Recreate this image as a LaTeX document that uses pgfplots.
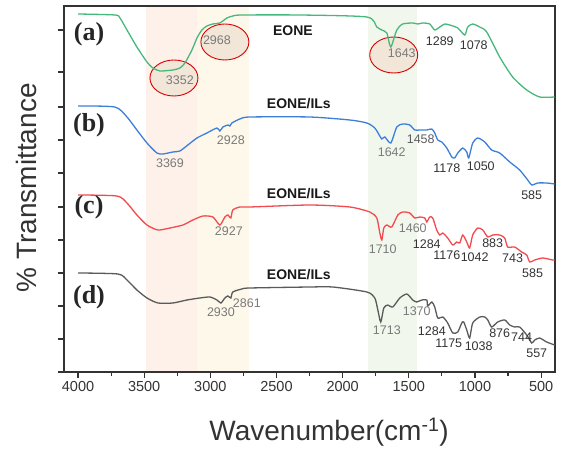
\documentclass[border=0pt]{standalone}
\usepackage{pgfplots}
\pgfplotsset{compat=1.18}
\usepackage{fontspec}
\setmainfont{Liberation Sans}
\newfontfamily\serifb{Liberation Serif}
\definecolor{cA}{HTML}{45B97C}
\definecolor{cB}{HTML}{3C7FDB}
\definecolor{cC}{HTML}{F24A4E}
\definecolor{cD}{HTML}{5A5A5A}
\definecolor{bandP}{HTML}{FDF1EA}
\definecolor{bandY}{HTML}{FEF8EA}
\definecolor{bandG}{HTML}{F1F7EC}
\definecolor{ellF}{HTML}{F1E6D8}
\definecolor{lg}{HTML}{7A7A7A}
\definecolor{ld}{HTML}{333333}
\begin{document}
\begin{tikzpicture}
\begin{axis}[
  set layers,
  scale only axis, width=491pt, height=366pt,
  xmin=395, xmax=4106, x dir=reverse,
  ymin=0, ymax=366,
  xtick={500,1000,...,4000}, minor x tick num=1,
  ytick={0,33,66,99,132,165,199,232,265,300,342},
  yticklabels={},
  xtick pos=bottom, ytick pos=left,
  tick align=outside,
  major tick length=6pt, minor tick length=4pt,
  every tick/.style={line width=1.1pt, black!80},
  axis line style={line width=1.2pt, black!80},
  scaled x ticks=false,
  /pgf/number format/1000 sep={},
  /pgf/number format/assume math mode=true,
  xticklabel style={font=\fontsize{14.5}{16}\selectfont, text=ld},
  xlabel={Wavenumber(cm\textsuperscript{-1})},
  ylabel={\% Transmittance},
  xlabel style={font=\fontsize{28}{32}\selectfont, text=ld, at={(axis description cs:0.54,-0.164)}, anchor=center},
  ylabel style={font=\fontsize{28}{32}\selectfont, text=ld, at={(axis description cs:-0.077,0.503)}, anchor=center},
  clip=false,
]
\coordinate (SW) at (rel axis cs:0,0);
\coordinate (NE) at (rel axis cs:1,1);
\begin{pgfonlayer}{axis background}
% shaded bands
\fill[bandP] (axis cs:3490,0) rectangle (axis cs:3100,366);
\fill[bandY] (axis cs:3100,0) rectangle (axis cs:2710,366);
\fill[bandG] (axis cs:1810,0) rectangle (axis cs:1440,366);
% ellipses
\draw[red!85!black, line width=0.9pt, fill=ellF] (axis cs:3275,294) ellipse [x radius=24pt, y radius=18pt];
\draw[red!85!black, line width=0.9pt, fill=ellF] (axis cs:2890,330) ellipse [x radius=24pt, y radius=18pt];
\draw[red!85!black, line width=0.9pt, fill=ellF] (axis cs:1614,317) ellipse [x radius=24pt, y radius=18pt];
\end{pgfonlayer}
% (a)
\addplot[cA, line width=1.3pt, smooth, tension=0.4] coordinates {
(4000,358) (3720,357) (3683,354) (3630,342) (3555,325) (3479,310) (3434,304) (3381,301)
(3283,302) (3230,304) (3192,309) (3139,322) (3101,334) (3064,342) (3026,346) (2981,348)
(2928,349) (2875,354) (2830,356) (2762,357) (2323,357) (1817,355) (1742,345) (1704,342)
(1666,339) (1636,325) (1591,342) (1546,348) (1470,349) (1432,348) (1394,349) (1342,348)
(1304,342) (1266,345) (1228,348) (1191,347) (1130,344) (1077,337) (1055,345) (1017,348)
(964,345) (911,340) (813,315) (715,295) (609,282) (511,275) (398,275)};
% (b)
\addplot[cB, line width=1.3pt, smooth, tension=0.4] coordinates {
(4000,266) (3721,265) (3630,255) (3555,242) (3479,229) (3404,219) (3358,218) (3283,220)
(3230,221) (3170,227) (3101,234) (3026,239) (2950,244) (2928,241) (2905,245) (2867,247)
(2852,246) (2837,249) (2777,253) (2701,255) (2248,255) (1946,252) (1817,249) (1757,244)
(1719,236) (1704,233) (1681,235) (1636,229) (1591,245) (1546,248) (1493,247) (1455,242)
(1417,242) (1364,242) (1326,243) (1304,239) (1281,232) (1251,230) (1213,224) (1175,215)
(1153,214) (1130,219) (1092,224) (1062,220) (1047,214) (1017,229) (979,234) (926,230)
(874,222) (813,219) (737,210) (662,202) (601,192) (571,187) (526,189) (458,189) (398,188)};
% (c)
\addplot[cC, line width=1.3pt, smooth, tension=0.4] coordinates {
(4000,177) (3706,176) (3630,169) (3555,157) (3479,147) (3396,142) (3305,144) (3207,147)
(3132,152) (3056,156) (2981,155) (2928,147) (2890,155) (2867,157) (2845,154) (2830,162)
(2777,165) (2701,165) (2248,167) (1946,165) (1795,160) (1742,154) (1719,139) (1704,132)
(1689,144) (1666,147) (1629,145) (1583,157) (1546,160) (1493,159) (1455,154) (1417,155)
(1379,154) (1364,150) (1342,155) (1319,154) (1289,142) (1266,137) (1243,139) (1206,134)
(1168,127) (1138,130) (1115,129) (1092,137) (1062,130) (1040,124) (1017,137) (979,144)
(941,142) (903,135) (866,137) (813,137) (775,134) (753,125) (700,125) (647,120) (609,117)
(586,110) (548,112) (488,114) (413,112) (398,112)};
% (d)
\addplot[cD, line width=1.3pt, smooth, tension=0.4] coordinates {
(4000,99) (3698,98) (3630,92) (3555,82) (3479,74) (3396,69) (3283,69) (3177,72)
(3079,74) (3003,75) (2950,72) (2920,69) (2890,74) (2867,76) (2845,74) (2830,80)
(2762,83) (2701,84) (2248,85) (2074,85) (1817,80) (1757,74) (1734,62) (1712,50)
(1689,64) (1659,67) (1621,65) (1568,74) (1515,78) (1470,72) (1440,70) (1402,72)
(1364,72) (1357,66) (1326,70) (1304,65) (1281,54) (1243,55) (1206,49) (1168,39)
(1130,40) (1100,49) (1085,50) (1062,42) (1040,34) (1017,49) (964,55) (926,55)
(903,52) (874,45) (828,50) (775,52) (737,47) (700,45) (662,45) (609,37) (571,29)
(548,32) (511,34) (458,30) (398,27)};
% panel letters
\node[font=\serifb\bfseries\fontsize{26}{28}\selectfont, text=black!85] at (axis cs:3917,338) {(a)};
\node[font=\serifb\bfseries\fontsize{26}{28}\selectfont, text=black!85] at (axis cs:3917,247) {(b)};
\node[font=\serifb\bfseries\fontsize{26}{28}\selectfont, text=black!85] at (axis cs:3917,165) {(c)};
\node[font=\serifb\bfseries\fontsize{26}{28}\selectfont, text=black!85] at (axis cs:3917,75) {(d)};
% titles
\node[font=\bfseries\fontsize{14}{16}\selectfont, text=black!90] at (axis cs:2376,341) {EONE};
\node[font=\bfseries\fontsize{14}{16}\selectfont, text=black!90] at (axis cs:2331,268) {EONE/ILs};
\node[font=\bfseries\fontsize{14}{16}\selectfont, text=black!90] at (axis cs:2331,178) {EONE/ILs};
\node[font=\bfseries\fontsize{14}{16}\selectfont, text=black!90] at (axis cs:2331,97) {EONE/ILs};
% peak labels
\begin{scope}[every node/.style={font=\fontsize{12.5}{14}\selectfont, inner sep=0pt}]
\node[text=lg] at (axis cs:3230,292) {3352};
\node[text=lg] at (axis cs:2950,332) {2968};
\node[text=lg] at (axis cs:1553,319) {1643};
\node[text=ld] at (axis cs:1266,331) {1289};
\node[text=ld] at (axis cs:1009,327) {1078};
\node[text=lg] at (axis cs:3305,209) {3369};
\node[text=lg] at (axis cs:2845,232) {2928};
\node[text=lg] at (axis cs:1629,220) {1642};
\node[text=ld!80] at (axis cs:1410,233) {1458};
\node[text=ld] at (axis cs:1213,204) {1178};
\node[text=ld] at (axis cs:956,206) {1050};
\node[text=ld] at (axis cs:571,177) {585};
\node[text=lg] at (axis cs:2860,141) {2927};
\node[text=lg] at (axis cs:1697,123) {1710};
\node[text=lg] at (axis cs:1470,144) {1460};
\node[text=ld] at (axis cs:1364,128) {1284};
\node[text=ld] at (axis cs:1213,117) {1176};
\node[text=ld] at (axis cs:1002,115) {1042};
\node[text=ld] at (axis cs:866,129) {883};
\node[text=ld] at (axis cs:715,114) {743};
\node[text=ld] at (axis cs:564,99) {585};
\node[text=lg] at (axis cs:2920,60) {2930};
\node[text=lg] at (axis cs:2724,69) {2861};
\node[text=lg] at (axis cs:1666,42) {1713};
\node[text=lg] at (axis cs:1440,61) {1370};
\node[text=ld] at (axis cs:1326,41) {1284};
\node[text=ld] at (axis cs:1198,29) {1175};
\node[text=ld] at (axis cs:972,26) {1038};
\node[text=ld] at (axis cs:813,39) {876};
\node[text=ld] at (axis cs:647,35) {744};
\node[text=ld] at (axis cs:533,19) {557};
\end{scope}
\end{axis}
\pgfresetboundingbox
\path ([shift={(-64pt,-80pt)}]SW) rectangle ([shift={(13pt,6pt)}]NE);
\end{tikzpicture}
\end{document}
